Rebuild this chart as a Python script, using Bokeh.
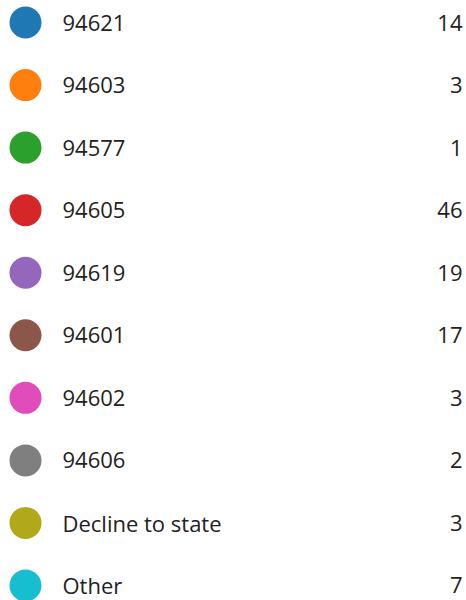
from bokeh.plotting import figure
from bokeh.models import Range1d, ColumnDataSource
from bokeh.core.properties import value
from bokeh.embed import file_html
from bokeh.resources import INLINE

labels = ["94621", "94603", "94577", "94605", "94619", "94601", "94602", "94606", "Decline to state", "Other"]
counts = [14, 3, 1, 46, 19, 17, 3, 2, 3, 7]
colors = ["#1f77b4", "#ff7f0e", "#2ca02c", "#d62728", "#9467bd", "#8c564b", "#e04cba", "#7f7f7f", "#b2a91a", "#17becf"]

rows = list(range(len(labels)))
src = ColumnDataSource(dict(row=rows, label=labels, count=[str(c) for c in counts], color=colors))

W, H = 466, 600
p = figure(width=W, height=H, output_backend="svg", toolbar_location=None,
           x_range=Range1d(0, W), y_range=Range1d(9.240, -0.352),
           min_border=0, outline_line_color=None)
p.axis.visible = False
p.grid.visible = False
p.background_fill_color = "white"
p.border_fill_color = "white"

p.scatter(x=25, y="row", size=32, color="color", line_color=None, source=src)
p.text(x=62, y="row", text="label", source=src, text_font=value("Open Sans"),
       text_font_size="22px", text_color="#222222", text_baseline="middle", text_align="left")
p.text(x=462, y="row", text="count", source=src, text_font=value("Open Sans"),
       text_font_size="22px", text_color="#222222", text_baseline="middle", text_align="right")

open("out.html", "w").write(file_html(p, INLINE))
